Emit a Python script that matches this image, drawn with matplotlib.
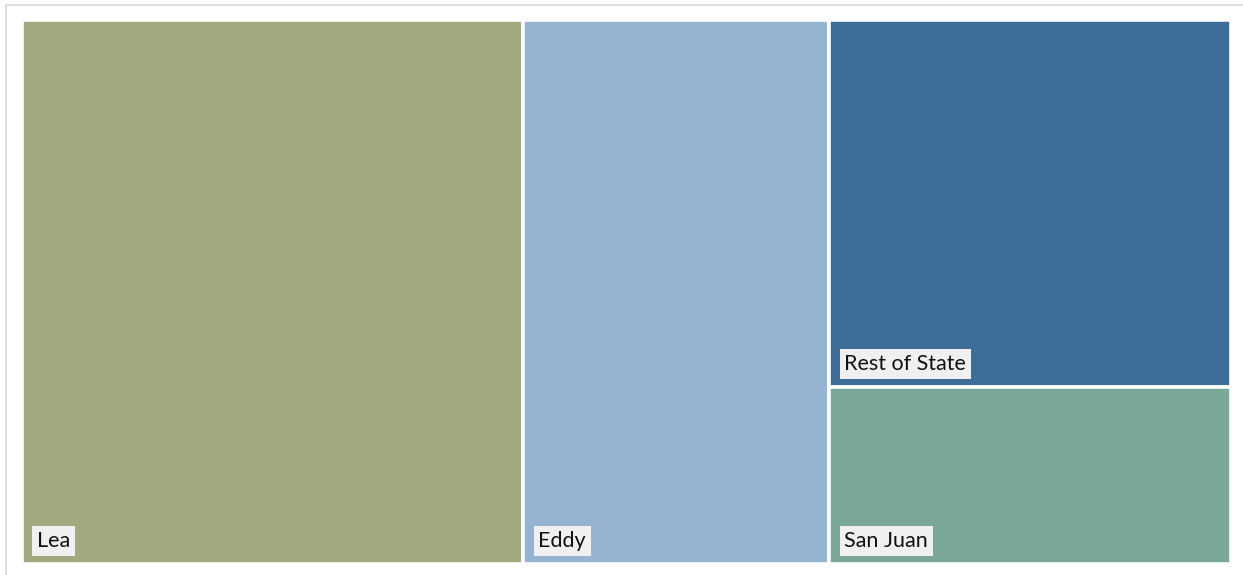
import matplotlib
matplotlib.use("Agg")
import matplotlib.pyplot as plt
from matplotlib.patches import Rectangle

# share of total (%)
names  = ["Lea", "Eddy", "Rest of State", "San Juan"]
values = [41.5, 25.3, 22.4, 10.8]
colors = ["#A2A97E", "#94B4D2", "#3E6E97", "#7BA69A"]

W, H = 1243, 575
X0, Y0, X1, Y1 = 21.7, 19.7, 1230.8, 563.8


def _worst(row, side):
    s = sum(row)
    return max(max(side * side * r / (s * s), s * s / (side * side * r)) for r in row)


def squarify(vals, x, y, w, h):
    # vals already scaled to area w*h; returns list of (x, y, w, h)
    rects = []
    vals = list(vals)
    while vals:
        side = min(w, h)
        row = [vals.pop(0)]
        while vals and _worst(row + [vals[0]], side) <= _worst(row, side):
            row.append(vals.pop(0))
        s = sum(row)
        if w >= h:
            cw = s / h
            cy = y
            for r in row:
                rects.append((x, cy, cw, r / cw))
                cy += r / cw
            x += cw
            w -= cw
        else:
            rh = s / w
            cx = x
            for r in row:
                rects.append((cx, y, r / rh, rh))
                cx += r / rh
            y += rh
            h -= rh
    return rects


fig = plt.figure(figsize=(W / 100, H / 100), dpi=100)
fig.patches.append(Rectangle((5.5 / W, -0.1), 1.2, 1 - 4.5 / H + 0.1,
                             transform=fig.transFigure, fill=False,
                             edgecolor="#D9D9D9", linewidth=1.2))

aw, ah = X1 - X0, Y1 - Y0
ax = fig.add_axes([X0 / W, 1 - Y1 / H, aw / W, ah / H])
ax.set_xlim(0, aw)
ax.set_ylim(ah, 0)
ax.axis("off")

tot = sum(values)
scaled = [v / tot * aw * ah for v in values]
for (rx, ry, rw, rh), name, c in zip(squarify(scaled, 0, 0, aw, ah), names, colors):
    ax.add_patch(Rectangle((rx, ry), rw, rh, facecolor=c, edgecolor="white",
                           linewidth=2.6))
    ax.text(rx + 15, ry + rh - 13, name, fontsize=15.5, family=["Lato", "DejaVu Sans"],
            color="#111111", ha="left", va="bottom",
            bbox=dict(boxstyle="square,pad=0.22", facecolor="#F0F0F0",
                      edgecolor="none"))

fig.savefig("out.png", dpi=100)
